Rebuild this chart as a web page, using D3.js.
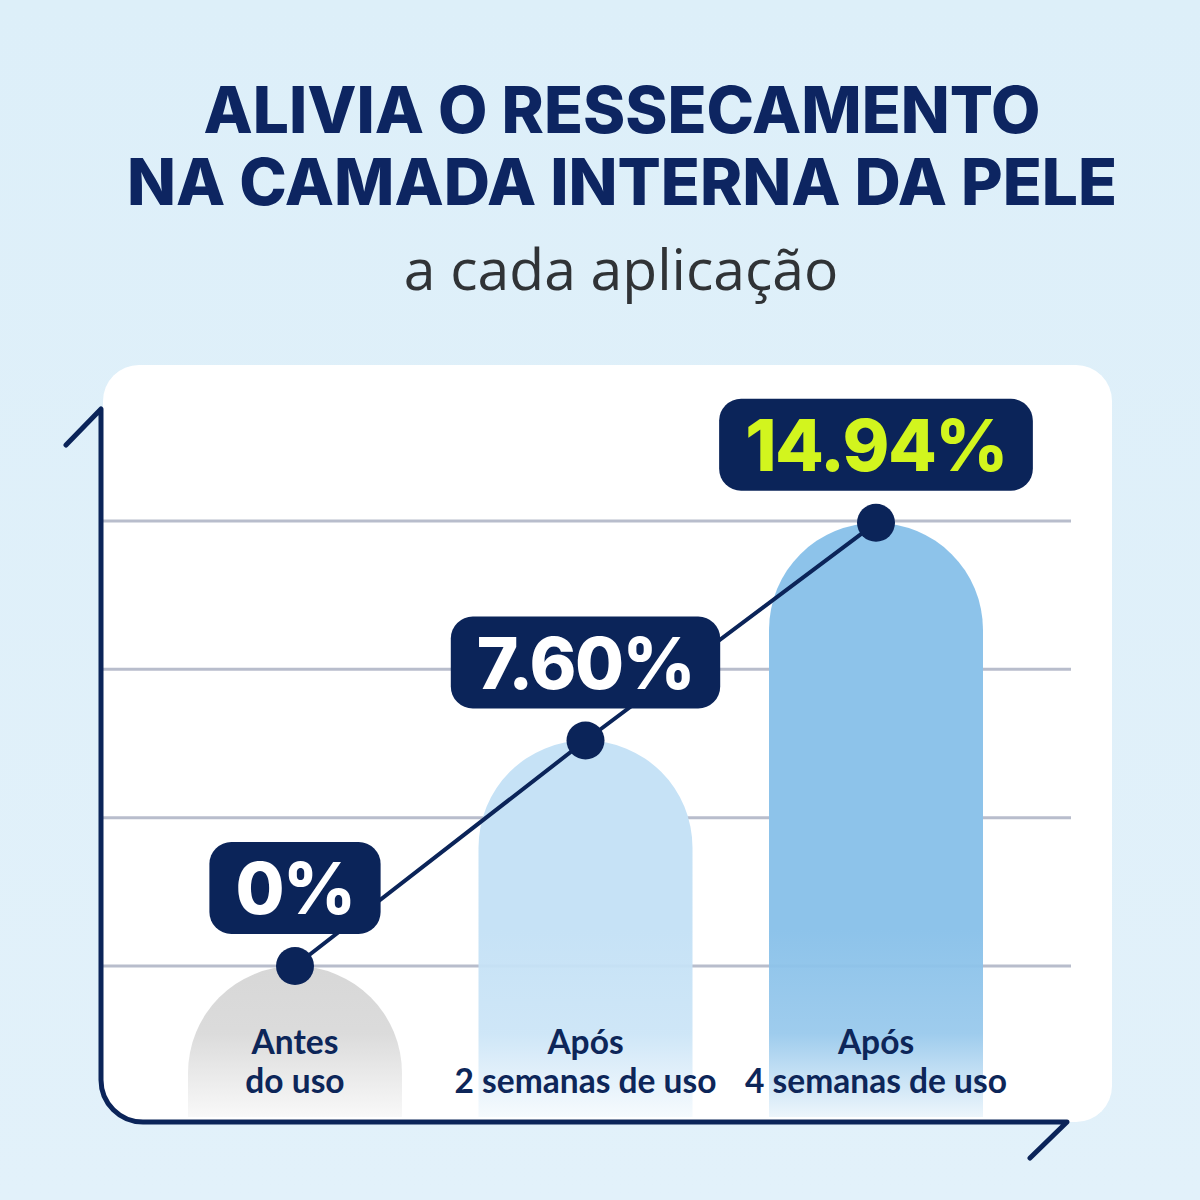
<!DOCTYPE html>
<html><head><meta charset="utf-8">
<script src="https://cdn.jsdelivr.net/npm/d3@7"></script>
<style>html,body{margin:0;padding:0;background:#e0f0fa;}svg{display:block;}</style>
</head><body>
<svg id="c" width="1200" height="1200"></svg>
<script>
const categories = ["Antes do uso", "Após 2 semanas de uso", "Após 4 semanas de uso"];
const categoryLines = [["Antes", "do uso"], ["Após", "2 semanas de uso"], ["Após", "4 semanas de uso"]];
const values = [0, 7.60, 14.94];
const valueLabels = ["0%", "7.60%", "14.94%"];
const gridTicks = [0, 5, 10, 15];
const titleLines = ["ALIVIA O RESSECAMENTO", "NA CAMADA INTERNA DA PELE"];
const subtitle = "a cada aplicação";

const NAVY = "#0b2459";
const svg = d3.select("#c");
const defs = svg.append("defs");

// background
const bg = defs.append("linearGradient").attr("id","bg").attr("x1",0).attr("y1",0).attr("x2",0).attr("y2",1);
bg.append("stop").attr("offset","0").attr("stop-color","#ddeff9");
bg.append("stop").attr("offset","1").attr("stop-color","#e2f1fa");
svg.append("rect").attr("width",1200).attr("height",1200).attr("fill","url(#bg)");

// titles
svg.selectAll("text.title").data(titleLines).join("text")
  .attr("class","title")
  .attr("x",622).attr("y",(d,i)=>133+i*72)
  .attr("text-anchor","middle")
  .attr("font-family","Inter, 'Open Sans', sans-serif")
  .attr("font-weight",800)
  .attr("font-size",64)
  .attr("fill","#0d2561")
  .text(d=>d);
svg.append("text").attr("x",621).attr("y",290).attr("text-anchor","middle")
  .attr("font-family","'Open Sans', 'Noto Sans', sans-serif")
  .attr("font-size",57).attr("fill","#303336").text(subtitle);

// panel
svg.append("rect").attr("x",103).attr("y",365).attr("width",1009).attr("height",757)
  .attr("rx",36).attr("fill","#ffffff");

// scales
const x = d3.scalePoint().domain(categories).range([295, 876]);
const y = d3.scaleLinear().domain([0, 15]).range([966, 521]);

// gridlines
svg.append("g").selectAll("line").data(gridTicks).join("line")
  .attr("x1",103).attr("x2",1071)
  .attr("y1",d=>y(d)).attr("y2",d=>y(d))
  .attr("stroke","#b8bdcc").attr("stroke-width",3);

// bar gradients
const barColors = ["#d5d5d5", "#c6e2f6", "#8dc3ea"];
barColors.forEach((c,i)=>{
  const g = defs.append("linearGradient").attr("id","bar"+i)
    .attr("gradientUnits","userSpaceOnUse").attr("x1",0).attr("x2",0).attr("y1",930).attr("y2",1118);
  g.append("stop").attr("offset","0").attr("stop-color",c);
  g.append("stop").attr("offset","0.55").attr("stop-color",c).attr("stop-opacity",0.85);
  g.append("stop").attr("offset","1").attr("stop-color",c).attr("stop-opacity",0.15);
});

const barW = 214, base = 1117;
function barPath(d,i){
  const cx = x(categories[i]), top = y(d), r = barW/2;
  const l = cx - r, rr = cx + r;
  const yc = Math.min(top + r, base);
  return `M${l},${base}L${l},${yc}A${r},${r} 0 0 1 ${rr},${yc}L${rr},${base}Z`;
}
svg.append("g").selectAll("path").data(values).join("path")
  .attr("d",barPath).attr("fill",(d,i)=>`url(#bar${i})`);

// axis
svg.append("path")
  .attr("d",`M66,445L101,409L101,1080A42,42 0 0 0 143,1122L1067,1122L1030,1158`)
  .attr("fill","none").attr("stroke",NAVY).attr("stroke-width",5)
  .attr("stroke-linecap","round").attr("stroke-linejoin","round");

// category labels
const cl = svg.append("g").selectAll("text").data(categoryLines).join("text")
  .attr("text-anchor","middle")
  .attr("font-family","Lato, 'Open Sans', sans-serif")
  .attr("font-weight",700).attr("font-size",33.5).attr("fill","#0d2659");
cl.selectAll("tspan").data((d,i)=>d.map(t=>({t,i}))).join("tspan")
  .attr("x",d=>x(categories[d.i])).attr("y",(d,j)=>1054+j*39).text(d=>d.t);

// line
const line = d3.line().x((d,i)=>x(categories[i])).y(d=>y(d));
svg.append("path").datum(values).attr("d",line)
  .attr("fill","none").attr("stroke",NAVY).attr("stroke-width",4);

// points
svg.append("g").selectAll("circle").data(values).join("circle")
  .attr("cx",(d,i)=>x(categories[i])).attr("cy",d=>y(d)).attr("r",19).attr("fill",NAVY);

// bubbles
const bub = svg.append("g").selectAll("g").data(values).join("g");
bub.each(function(d,i){
  const g = d3.select(this);
  const cx = x(categories[i]);
  const bottom = y(d) - 32, h = 92, cy = bottom - h/2;
  const rect = g.append("rect").attr("fill",NAVY).attr("rx",22);
  const t = g.append("text").attr("x",cx).attr("y",cy+26)
    .attr("text-anchor","middle")
    .attr("font-family","Inter, 'Open Sans', sans-serif")
    .attr("font-weight",800).attr("font-size",71)
    .attr("letter-spacing",-1.5)
    .attr("fill", i===2 ? "#d2f51e" : "#ffffff")
    .text(valueLabels[i]);
  const w = t.node().getComputedTextLength() + 52;
  rect.attr("x",cx-w/2).attr("y",bottom-h).attr("width",w).attr("height",h);
});
</script>
</body></html>
